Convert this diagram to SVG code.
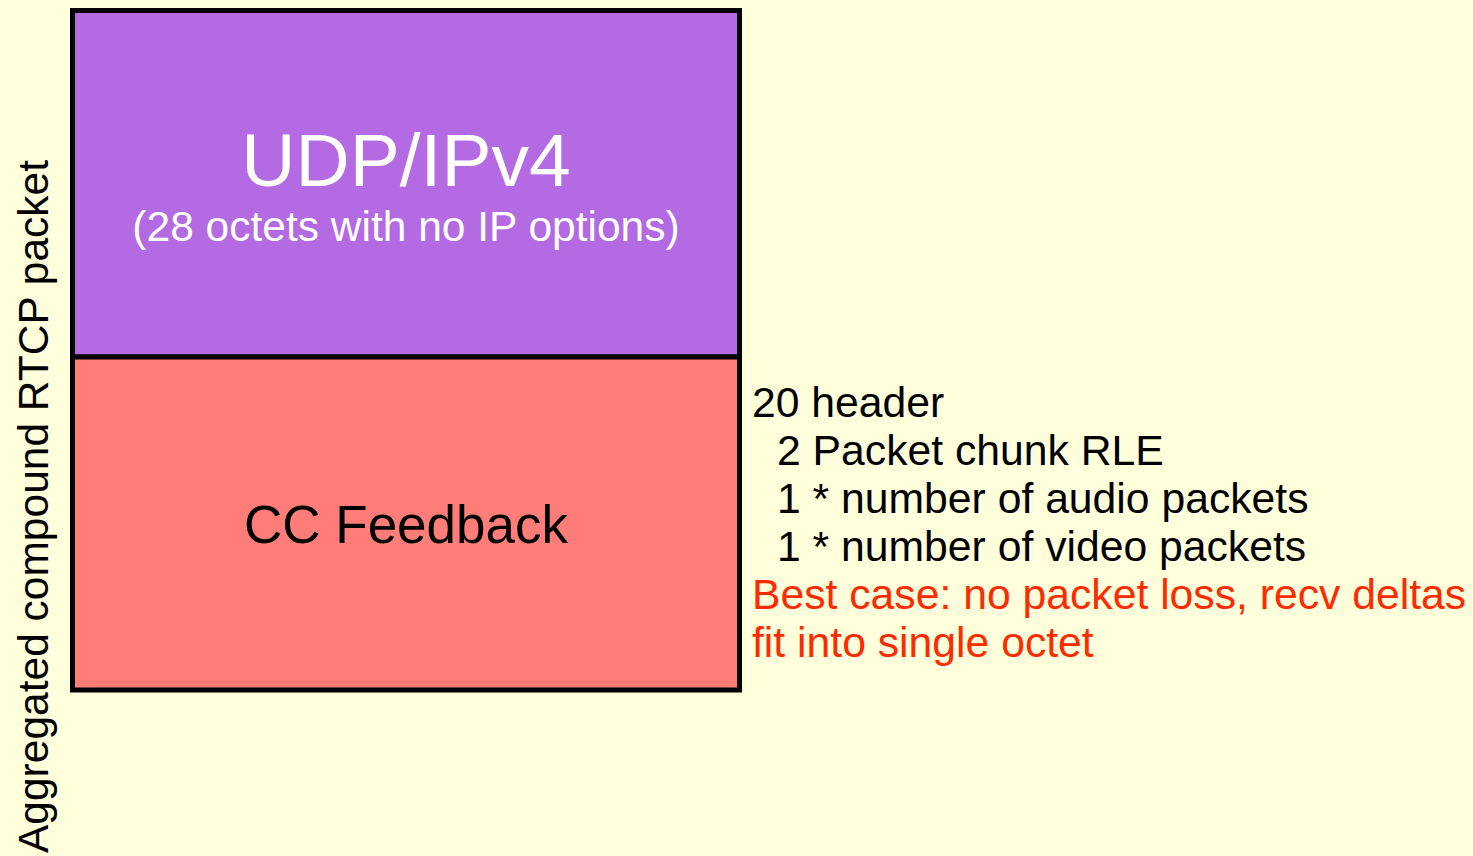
<svg xmlns="http://www.w3.org/2000/svg" width="1473" height="856" viewBox="0 0 1473 856">
  <style>
    .box { stroke: #000; stroke-width: 5; }
    .t { font-family: "Liberation Sans", Arial, sans-serif; }
    .note { font-size: 42.7px; fill: #000; }
    .warn { font-size: 42.7px; fill: #FF2B00; }
  </style>
  <rect width="1473" height="856" fill="#FFFFDC"/>

  <!-- Side label for the whole packet -->
  <text class="t" font-size="42.5" fill="#000" transform="translate(48,853) rotate(-90)">Aggregated compound RTCP packet</text>

  <!-- Upper block: transport headers -->
  <g id="udp-ipv4">
    <rect class="box" x="72.5" y="10.5" width="667" height="346.5" fill="#B36AE2"/>
    <text class="t" x="406" y="186" font-size="75" fill="#FFF" text-anchor="middle">UDP/IPv4</text>
    <text class="t" x="406" y="241" font-size="42.5" fill="#FFF" text-anchor="middle">(28 octets with no IP options)</text>
  </g>

  <!-- Lower block: congestion control feedback -->
  <g id="cc-feedback">
    <rect class="box" x="72.5" y="357" width="667" height="333" fill="#FF7D78"/>
    <text class="t" x="406" y="543" font-size="53" fill="#000" text-anchor="middle">CC Feedback</text>
  </g>

  <!-- Size breakdown of the feedback block -->
  <g id="breakdown" class="t">
    <text class="note" x="752" y="417">20 header</text>
    <text class="note" x="777" y="465">2 Packet chunk RLE</text>
    <text class="note" x="777" y="513">1 * number of audio packets</text>
    <text class="note" x="777" y="561">1 * number of video packets</text>
    <text class="warn" x="752" y="609">Best case: no packet loss, recv deltas</text>
    <text class="warn" x="752" y="657">fit into single octet</text>
  </g>

  <!-- No connectors in this figure -->
  <g id="connectors"/>
</svg>
